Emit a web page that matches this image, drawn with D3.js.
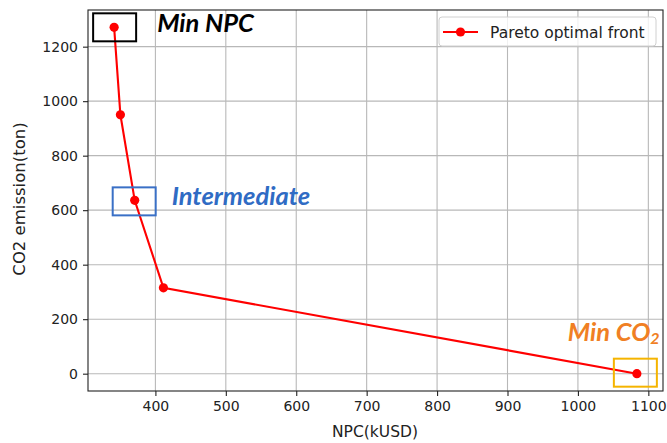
<!DOCTYPE html>
<html>
<head>
<meta charset="utf-8">
<script src="https://cdn.jsdelivr.net/npm/d3@7"></script>
<style>
  html, body { margin: 0; padding: 0; background: #fff; }
  svg { display: block; }
</style>
</head>
<body>
<svg id="chart" width="667" height="443"></svg>
<script>
// Pareto front: net present cost vs CO2 emission
const npc = [341.4, 350.3, 370.6, 411.4, 1083.7];
const co2 = [1271, 950, 636, 315, 0];
const xTicks = [400, 500, 600, 700, 800, 900, 1000, 1100];
const yTicks = [0, 200, 400, 600, 800, 1000, 1200];
const seriesName = "Pareto optimal front";
const xLabel = "NPC(kUSD)";
const yLabel = "CO2 emission(ton)";

// highlighted solutions: [index into the front, label]
const highlights = [
  { idx: 0, label: "Min NPC", text: "#000000", box: "#000000" },
  { idx: 2, label: "Intermediate", text: "#2f6bc4", box: "#3a70c6" },
  { idx: 4, label: "Min CO", sub: "2", text: "#f07f24", box: "#f5b400" }
];

const svg = d3.select("#chart");
const plot = { left: 88, top: 10, right: 663, bottom: 391 };

// matplotlib-style 5% padding around the data range
const pad = (lo, hi) => { const m = (hi - lo) * 0.05; return [lo - m, hi + m]; };
const x = d3.scaleLinear().domain(pad(d3.min(npc), d3.max(npc))).range([plot.left, plot.right]);
const y = d3.scaleLinear().domain(pad(d3.min(co2), d3.max(co2))).range([plot.bottom, plot.top]);

const font = "'DejaVu Sans', sans-serif";

// grid
const grid = svg.append("g").attr("stroke", "#b8b8b8").attr("stroke-width", 1.1);
grid.selectAll(".gx").data(xTicks).join("line")
  .attr("x1", d => x(d)).attr("x2", d => x(d))
  .attr("y1", plot.top).attr("y2", plot.bottom);
grid.selectAll(".gy").data(yTicks).join("line")
  .attr("x1", plot.left).attr("x2", plot.right)
  .attr("y1", d => y(d)).attr("y2", d => y(d));

// axes
const xAxis = svg.append("g").attr("transform", `translate(0,${plot.bottom})`)
  .call(d3.axisBottom(x).tickValues(xTicks).tickSize(5).tickPadding(5).tickFormat(d3.format("d")));
const yAxis = svg.append("g").attr("transform", `translate(${plot.left},0)`)
  .call(d3.axisLeft(y).tickValues(yTicks).tickSize(5).tickPadding(5).tickFormat(d3.format("d")));
[xAxis, yAxis].forEach(g => {
  g.select(".domain").remove();
  g.selectAll("line").attr("stroke", "#222").attr("stroke-width", 1.1);
  g.selectAll("text").attr("font-family", font).attr("font-size", 14).attr("fill", "#222");
});

// frame
svg.append("rect")
  .attr("x", plot.left).attr("y", plot.top)
  .attr("width", plot.right - plot.left).attr("height", plot.bottom - plot.top)
  .attr("fill", "none").attr("stroke", "#222").attr("stroke-width", 1.1);

// axis titles
svg.append("text").attr("x", 375).attr("y", 437)
  .attr("text-anchor", "middle").attr("font-family", font).attr("font-size", 15.5).attr("fill", "#222")
  .text(xLabel);
svg.append("text").attr("transform", `translate(25,199) rotate(-90)`)
  .attr("text-anchor", "middle").attr("font-family", font).attr("font-size", 16.5).attr("fill", "#222")
  .text(yLabel);

// the front
const pts = npc.map((v, i) => [v, co2[i]]);
svg.append("path").datum(pts)
  .attr("d", d3.line().x(d => x(d[0])).y(d => y(d[1])))
  .attr("fill", "none").attr("stroke", "#ff0000").attr("stroke-width", 2.1);
svg.selectAll(".pt").data(pts).join("circle")
  .attr("cx", d => x(d[0])).attr("cy", d => y(d[1])).attr("r", 4.6)
  .attr("fill", "#ff0000");

// highlight boxes and their labels
const boxW = 43, boxH = 28;
const annFont = "Lato, 'Open Sans', sans-serif";
const offsets = [
  { bx: -21, by: -14, tx: 43, ty: 5 },
  { bx: -22, by: -13, tx: 37, ty: 5 },
  { bx: -23, by: -15, tx: -69, ty: -33 }
];
highlights.forEach((h, k) => {
  const cx = x(npc[h.idx]), cy = y(co2[h.idx]), o = offsets[k];
  svg.append("rect")
    .attr("x", cx + o.bx).attr("y", cy + o.by).attr("width", boxW).attr("height", boxH)
    .attr("fill", "none").attr("stroke", h.box).attr("stroke-width", 2);
  const t = svg.append("text")
    .attr("x", cx + o.tx).attr("y", cy + o.ty)
    .attr("font-family", annFont).attr("font-size", 25.5)
    .attr("font-weight", 700).attr("font-style", "italic").attr("fill", h.text)
    .text(h.label);
  if (h.sub) {
    t.append("tspan").attr("font-size", 16).attr("dy", 3).text(h.sub);
  }
});

// legend
const lg = svg.append("g").attr("transform", "translate(439,17)");
lg.append("rect").attr("width", 217).attr("height", 29).attr("rx", 3)
  .attr("fill", "#fff").attr("fill-opacity", 0.8).attr("stroke", "#d0d0d0").attr("stroke-width", 1);
lg.append("line").attr("x1", 4).attr("x2", 39).attr("y1", 15).attr("y2", 15)
  .attr("stroke", "#ff0000").attr("stroke-width", 2.1);
lg.append("circle").attr("cx", 21.5).attr("cy", 15).attr("r", 4.6).attr("fill", "#ff0000");
lg.append("text").attr("x", 51).attr("y", 21)
  .attr("font-family", font).attr("font-size", 15.5).attr("fill", "#222")
  .text(seriesName);
</script>
</body>
</html>
